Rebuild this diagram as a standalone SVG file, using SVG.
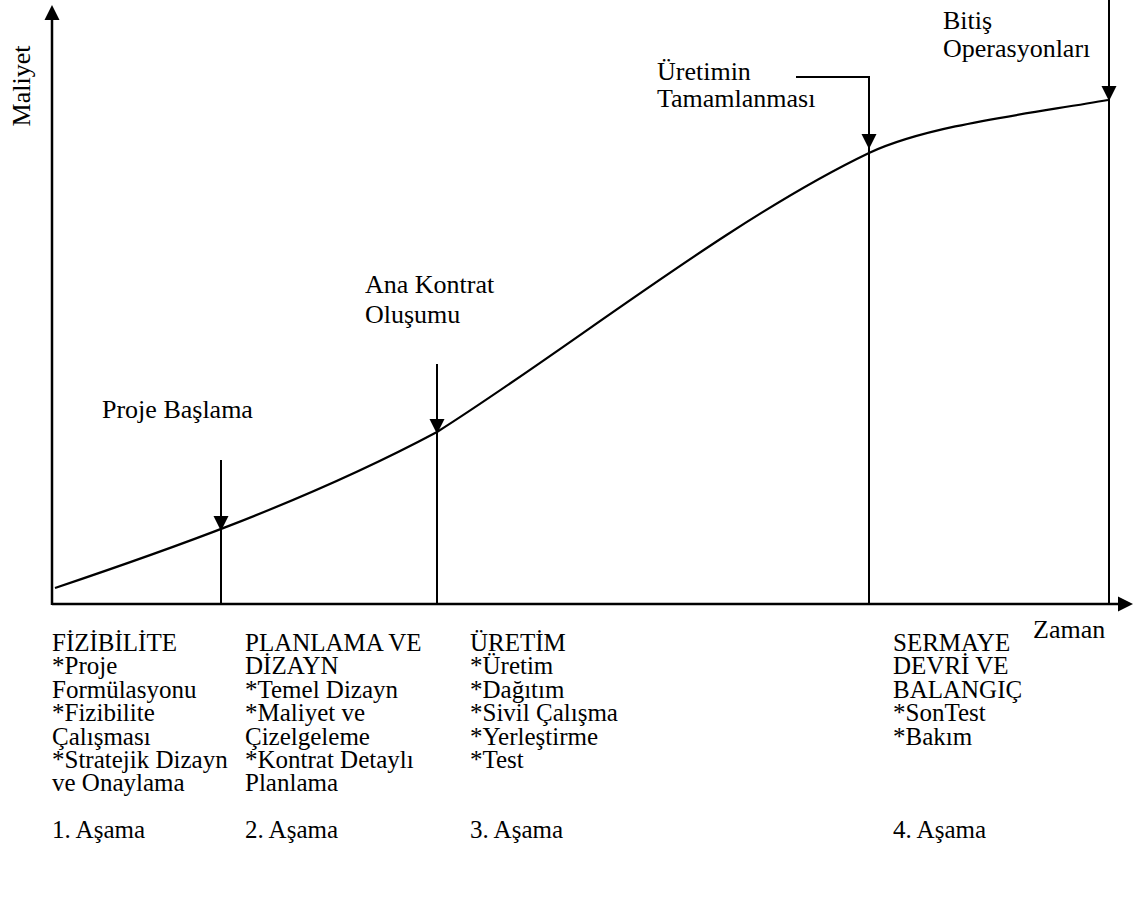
<svg xmlns="http://www.w3.org/2000/svg" width="1134" height="906" viewBox="0 0 1134 906">
  <style>
    text { font-family: "Liberation Serif", "Times New Roman", serif; font-size: 26px; fill: #000; }
    .phase text { font-size: 25px; }
    .ax { stroke: #000; stroke-width: 2.5; fill: none; }
    .ln { stroke: #000; stroke-width: 2; fill: none; }
    .curve { stroke: #000; stroke-width: 2.2; fill: none; }
    .head { fill: #000; }
  </style>
  <defs>
    <!-- arrowhead pointing down, tip at the origin -->
    <path id="ah" class="head" d="M-7.5,-15 L7.5,-15 L0,0 Z"/>
  </defs>
  <rect width="1134" height="906" fill="#fff"/>

  <g id="connectors">
    <!-- axes -->
    <line class="ax" x1="52" y1="18" x2="52" y2="605"/>
    <line class="ax" x1="52" y1="604" x2="1120" y2="604"/>
    <use href="#ah" transform="translate(52,5) rotate(180)"/>
    <use href="#ah" transform="translate(1133,604) rotate(-90)"/>

    <!-- cost curve -->
    <path class="curve" d="M55,588 C150,556 300,505 437,432 C567,350 729,220 869,153 C929,125 1028,114 1108,100"/>

    <!-- milestone markers -->
    <line class="ln" x1="221" y1="460" x2="221" y2="604"/>
    <use href="#ah" transform="translate(221,531)"/>
    <line class="ln" x1="437" y1="364" x2="437" y2="604"/>
    <use href="#ah" transform="translate(437,434)"/>
    <polyline class="ln" points="796,77 869,77 869,604"/>
    <use href="#ah" transform="translate(869,149)"/>
    <line class="ln" x1="1109" y1="0" x2="1109" y2="604"/>
    <use href="#ah" transform="translate(1109,101)"/>
  </g>

  <g id="axis-labels">
    <text transform="translate(30,86) rotate(-90)" text-anchor="middle">Maliyet</text>
    <text x="1033" y="638">Zaman</text>
  </g>

  <g id="milestone-proje">
    <text x="102" y="418">Proje Başlama</text>
  </g>
  <g id="milestone-kontrat">
    <text x="365" y="293">Ana Kontrat</text>
    <text x="365" y="323">Oluşumu</text>
  </g>
  <g id="milestone-uretim">
    <text x="657" y="80">Üretimin</text>
    <text x="657" y="107">Tamamlanması</text>
  </g>
  <g id="milestone-bitis">
    <text x="943" y="29">Bitiş</text>
    <text x="943" y="57">Operasyonları</text>
  </g>

  <g id="phase-1" class="phase">
    <text x="52" y="651">FİZİBİLİTE</text>
    <text x="52" y="674.4">*Proje</text>
    <text x="52" y="697.8">Formülasyonu</text>
    <text x="52" y="721.2">*Fizibilite</text>
    <text x="52" y="744.6">Çalışması</text>
    <text x="52" y="768">*Stratejik Dizayn</text>
    <text x="52" y="791.4">ve Onaylama</text>
    <text x="52" y="838.2">1. Aşama</text>
  </g>
  <g id="phase-2" class="phase">
    <text x="245" y="651">PLANLAMA VE</text>
    <text x="245" y="674.4">DİZAYN</text>
    <text x="245" y="697.8">*Temel Dizayn</text>
    <text x="245" y="721.2">*Maliyet ve</text>
    <text x="245" y="744.6">Çizelgeleme</text>
    <text x="245" y="768">*Kontrat Detaylı</text>
    <text x="245" y="791.4">Planlama</text>
    <text x="245" y="838.2">2. Aşama</text>
  </g>
  <g id="phase-3" class="phase">
    <text x="470" y="651">ÜRETİM</text>
    <text x="470" y="674.4">*Üretim</text>
    <text x="470" y="697.8">*Dağıtım</text>
    <text x="470" y="721.2">*Sivil Çalışma</text>
    <text x="470" y="744.6">*Yerleştirme</text>
    <text x="470" y="768">*Test</text>
    <text x="470" y="838.2">3. Aşama</text>
  </g>
  <g id="phase-4" class="phase">
    <text x="893" y="651">SERMAYE</text>
    <text x="893" y="674.4">DEVRİ VE</text>
    <text x="893" y="697.8">BALANGIÇ</text>
    <text x="893" y="721.2">*SonTest</text>
    <text x="893" y="744.6">*Bakım</text>
    <text x="893" y="838.2">4. Aşama</text>
  </g>
</svg>
